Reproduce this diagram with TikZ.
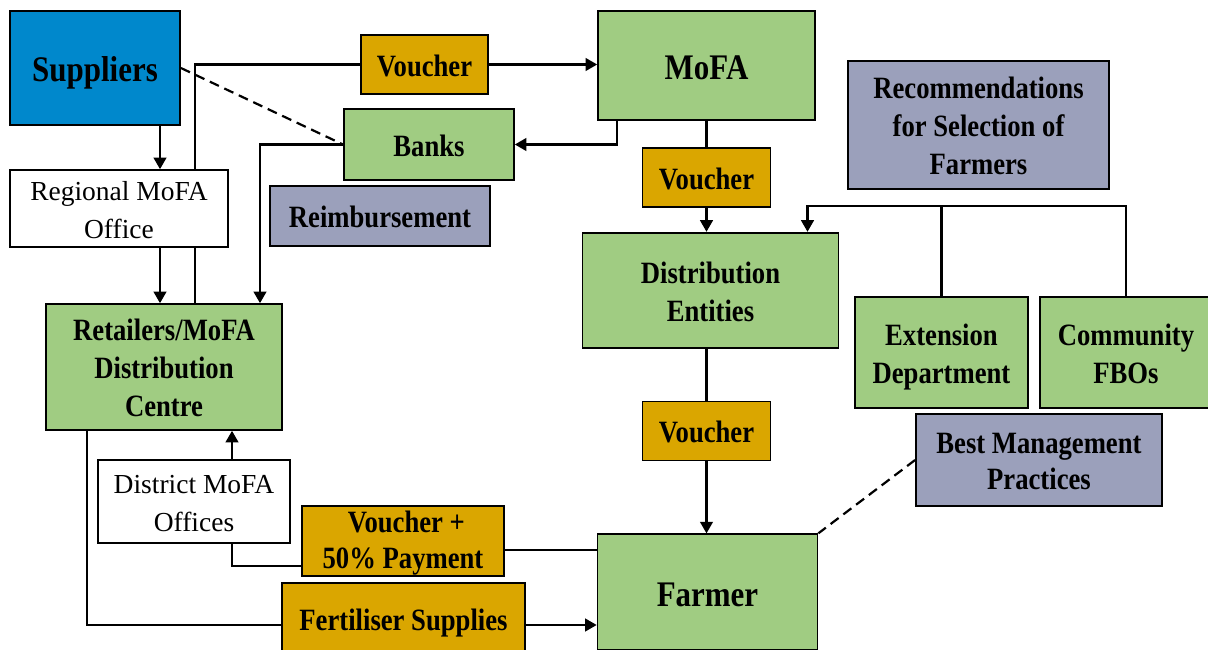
\documentclass[tikz,border=0pt]{standalone}
\usepackage{fontspec}
\setmainfont{Liberation Serif}[BoldFeatures={FakeStretch=0.86}]
\usetikzlibrary{arrows,calc,positioning,backgrounds}
\definecolor{supblue}{RGB}{0,136,204}
\definecolor{boxgreen}{RGB}{160,204,130}
\definecolor{vouchergold}{RGB}{218,166,0}
\definecolor{notegray}{RGB}{155,160,187}
\newcommand{\upstrut}[1][1.02em]{\rule{0pt}{#1}} % first line of a box: same height everywhere

\begin{document}
\begin{tikzpicture}[%
      x=1pt, y=-1pt,          % one unit per pixel of the layout
      >=triangle 60,          % Arrow tips
      line width=2.2pt
      ]
  \tikzset{
    rect/.style={draw, align=center, rectangle, inner sep=0pt, line width=1.8pt,
      font=\bfseries\fontsize{31}{38}\selectfont,
      execute at begin node={\upstrut},
      execute at end node={\rule[-0.25em]{0pt}{0.25em}}},
    big/.style={font=\bfseries\fontsize{36}{40}\selectfont},
    tight/.style={font=\bfseries\fontsize{31}{36}\selectfont},
    entity/.style={rect, fill=boxgreen},
    voucher/.style={rect, fill=vouchergold, minimum width=128, minimum height=59},
    note/.style={rect, fill=notegray},
    office/.style={rect, fill=white, font=\fontsize{27.5}{38}\selectfont},
    link/.style={line width=2.2pt, solid},
    hint/.style={line width=2.2pt, dash pattern=on 10pt off 6pt}}
  \useasboundingbox (0,0) rectangle (1208,650);
  \clip (0,0) rectangle (1208,650);

  % left side
  \node [rect,big,fill=supblue,minimum width=170,minimum height=114] (sup) at (95,68) {Suppliers};
  \node [office,minimum width=218,minimum height=77] (reg) at (119,208.5) {\upstrut Regional MoFA\\Office};
  \node [entity,minimum width=236,minimum height=126] (ret) at (164,367) {\upstrut Retailers/MoFA\\Distribution\\Centre};
  \node [office,minimum width=192,minimum height=83] (dist) at (194,501.5) {\upstrut District MoFA\\Offices};
  \node [voucher,minimum width=127] (vch1) at (424.5,64.5) {Voucher};
  \node [entity,minimum width=170,minimum height=71] (banks) at (429,144.5) {Banks};
  \node [note,minimum width=220,minimum height=60] (reimb) at (380,216) {Reimbursement};
  \node [voucher,tight,minimum width=202,minimum height=70] (vpay) at (403,541) {\upstrut[0.85em] Voucher +\\50\% Payment};
  \node [voucher,minimum width=243,minimum height=72] (fert) at (403.5,619) {Fertiliser Supplies};

  % middle column
  \node [entity,big,minimum width=217,minimum height=109] (mofa) at (706.5,65.5) {MoFA};
  \node [voucher,below=26pt of mofa] (vch2) {Voucher};
  \node [entity,minimum width=256,minimum height=115,below=24pt of vch2,xshift=4pt] (de) {\upstrut Distribution\\Entities};
  \node [voucher,below=52pt of de,xshift=-4pt] (vch3) {Voucher};
  \node [entity,big,minimum width=220,minimum height=116,below=72pt of vch3,xshift=1pt] (farmer) {Farmer};

  % right side
  \node [note,minimum width=261,minimum height=128] (rec) at (978.5,125) {\upstrut Recommendations\\for Selection of\\Farmers};
  \node [entity,minimum width=173,minimum height=111] (ext) at (941.5,352.5) {\upstrut Extension\\Department};
  \node [entity,minimum width=172,minimum height=111] (com) at (1126,352.5) {\upstrut Community\\FBOs};
  \node [note,tight,minimum width=246,minimum height=92] (bmp) at (1039,460) {\upstrut Best Management\\Practices};

  \begin{scope}[on background layer]
    \draw[link] (vch1.west) -| ([xshift=31pt]ret.north);
  \end{scope}

  \draw[link,->] ([xshift=65pt]sup.south) -- ([xshift=65pt]sup.south |- reg.north);
  \draw[link,->] ([xshift=41pt]reg.south) -- ([xshift=41pt]reg.south |- ret.north);
  \draw[link,->] (vch1.east) -- (vch1.east -| mofa.west);
  \draw[hint] (sup.east) -- (banks.west);
  \draw[link,->] ([xshift=-89.5pt]mofa.south) |- (banks.east);
  \draw[link,->] (banks.west) -| ([xshift=96pt]ret.north);

  \draw[link] (vch2.north |- mofa.south) -- (vch2.north);
  \draw[link,->] (vch2.south) -- (vch2.south |- de.north);
  \draw[link] (vch3.north |- de.south) -- (vch3.north);
  \draw[link,->] (vch3.south) -- (vch3.south |- farmer.north);

  \coordinate (bar) at ($(ext.north)+(0,-90)$);
  \draw[link] (ext.north) -- (bar);
  \draw[link,->] (com.north) |- (bar) -| ([xshift=97pt]de.north);
  \draw[hint] (bmp.west) -- (farmer.north east);

  \coordinate (payin) at ([yshift=-9pt]vpay.east);
  \draw[link] (farmer.west |- payin) -- (payin);
  \draw[link] ([yshift=-25pt]vpay.west) -| ([xshift=38pt]dist.south);
  \draw[link,->] ([xshift=38pt]dist.north) -- ([xshift=38pt]dist.north |- ret.south);
  \coordinate (fertin) at ([yshift=-6pt]fert.west);
  \draw[link] ([xshift=-77pt]ret.south) |- (fertin);
  \draw[link,->] ([yshift=-6pt]fert.east) -- ([yshift=-6pt]fert.east -| farmer.west);
\end{tikzpicture}
\end{document}
